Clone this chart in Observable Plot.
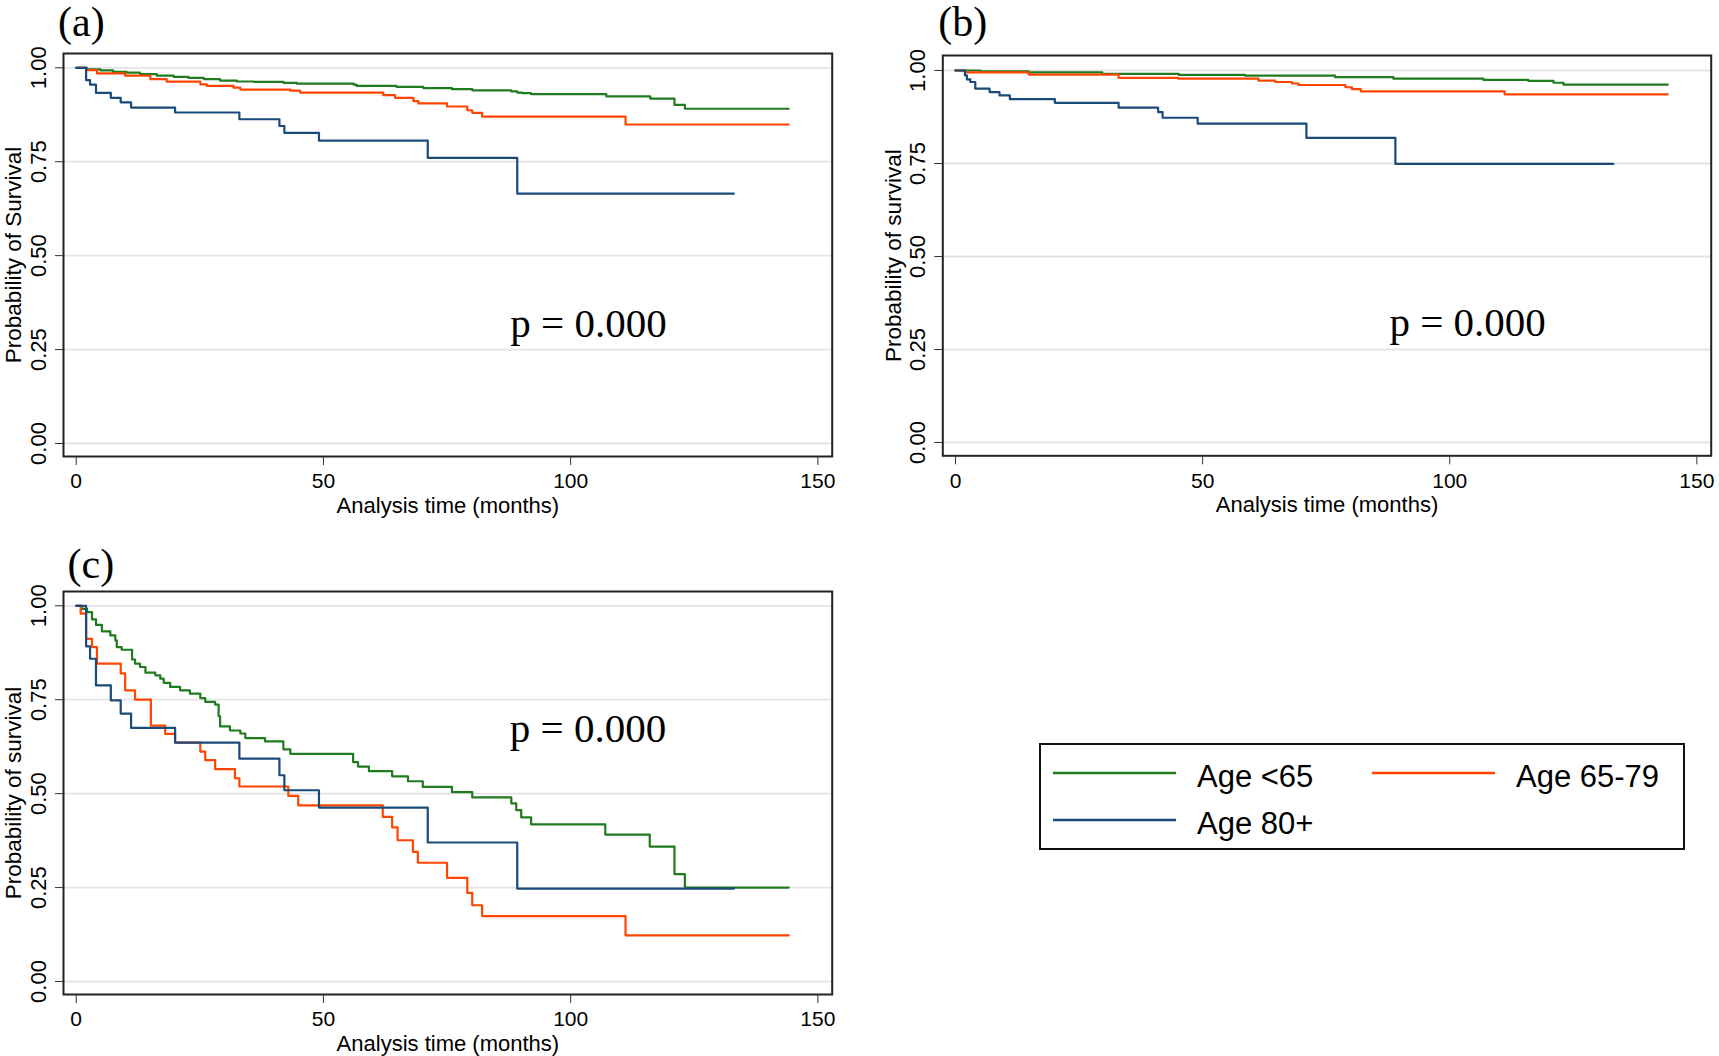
<!DOCTYPE html>
<html>
<head>
<meta charset="utf-8">
<script src="https://cdn.jsdelivr.net/npm/d3@7"></script>
<script src="https://cdn.jsdelivr.net/npm/@observablehq/plot@0.6"></script>
<style>
  html, body { margin: 0; padding: 0; background: #fff; }
  #root { position: relative; width: 1719px; height: 1056px; overflow: hidden; background: #fff; }
  .panel { position: absolute; }
  #legend { position: absolute; left: 1039px; top: 743px; }
</style>
</head>
<body>
<div id="root">
  <div class="panel" id="pa" style="left:0px;top:0px"></div>
  <div class="panel" id="pb" style="left:880px;top:0px"></div>
  <div class="panel" id="pc" style="left:0px;top:538px"></div>
  <div id="legend"></div>
</div>
<script>
// ---------- data ----------
const series = ["Age <65", "Age 65-79", "Age 80+"];
const colors = ["#1e7b1e", "#ff4500", "#1a4a7a"];
const xTicks = [0, 50, 100, 150];
const yTicks = [0, 0.25, 0.5, 0.75, 1];
const xTitle = "Analysis time (months)";
const pLabel = "p = 0.000";

// panel (a)
const aTimeLt65 = [0, 2.2, 4.9, 7.5, 10.2, 12.9, 16.3, 19.7, 22.7, 25.8, 29.1, 32.5, 35.9, 41.9, 44.6, 56.1, 56.7, 64.8, 70.2, 76.0, 80.1, 88.0, 89.2, 90.2, 92.0, 107.2, 116.1, 121.0, 123.1, 144.1];
const aSurvLt65 = [1, 0.996, 0.993, 0.989, 0.987, 0.983, 0.979, 0.976, 0.973, 0.970, 0.966, 0.9635, 0.9626, 0.960, 0.958, 0.955, 0.952, 0.949, 0.946, 0.943, 0.940, 0.937, 0.934, 0.9325, 0.930, 0.924, 0.918, 0.901, 0.891, 0.891];
const aTime6579 = [0, 2.1, 4.2, 9.9, 15.0, 18.3, 25.1, 26.4, 31.8, 33.2, 43.3, 45.3, 62.1, 64.5, 68.2, 69.2, 75.0, 79.1, 80.1, 82.1, 111.1, 144.1];
const aSurv6579 = [1, 0.994, 0.985, 0.979, 0.970, 0.963, 0.956, 0.952, 0.947, 0.942, 0.939, 0.934, 0.927, 0.920, 0.911, 0.905, 0.897, 0.887, 0.880, 0.870, 0.849, 0.849];
const aTime80 = [0, 2.0, 2.8, 4.0, 7.0, 9.0, 11.1, 20.0, 33.0, 41.1, 42.1, 49.1, 71.1, 89.2, 133.0];
const aSurv80 = [1, 0.967, 0.955, 0.933, 0.920, 0.908, 0.894, 0.881, 0.863, 0.845, 0.827, 0.806, 0.760, 0.665, 0.665];

// panel (b)
const bTimeLt65 = [0, 5.0, 14.8, 29.7, 45.2, 58.6, 76.8, 88.6, 106.8, 115.9, 121.0, 123.0, 144.1];
const bSurvLt65 = [1, 0.998, 0.995, 0.991, 0.988, 0.986, 0.982, 0.978, 0.975, 0.972, 0.967, 0.962, 0.962];
const bTime6579 = [0, 2.0, 14.8, 33.0, 45.1, 61.3, 64.7, 68.1, 69.4, 78.9, 80.2, 82.0, 111.1, 144.1];
const bSurv6579 = [1, 0.995, 0.989, 0.980, 0.978, 0.973, 0.969, 0.965, 0.961, 0.955, 0.950, 0.944, 0.936, 0.936];
const bTime80 = [0, 1.9, 2.3, 3.0, 4.0, 6.9, 8.9, 11.0, 20.1, 33.0, 41.0, 41.9, 49.0, 71.0, 89.0, 133.1];
const bSurv80 = [1, 0.987, 0.976, 0.969, 0.951, 0.942, 0.933, 0.923, 0.913, 0.900, 0.888, 0.873, 0.857, 0.819, 0.749, 0.749];

// panel (c)
const cTimeLt65 = [0, 1.1, 2.2, 3.2, 4.0, 5.2, 6.9, 7.9, 8.2, 9.2, 11.3, 11.9, 12.9, 14.0, 16.0, 17.0, 17.7, 19.0, 21.0, 23.0, 25.1, 26.1, 28.1, 28.8, 29.1, 31.1, 33.2, 34.2, 38.2, 41.9, 43.3, 56.0, 57.0, 59.2, 63.9, 67.1, 70.1, 76.0, 80.1, 88.0, 89.0, 90.0, 92.0, 107.0, 116.0, 121.0, 123.1, 144.1];
const cSurvLt65 = [1, 0.992, 0.983, 0.964, 0.949, 0.932, 0.921, 0.908, 0.890, 0.883, 0.857, 0.846, 0.837, 0.822, 0.815, 0.806, 0.795, 0.784, 0.775, 0.766, 0.754, 0.744, 0.737, 0.706, 0.679, 0.668, 0.660, 0.648, 0.639, 0.618, 0.606, 0.584, 0.572, 0.560, 0.546, 0.533, 0.518, 0.504, 0.490, 0.474, 0.456, 0.437, 0.418, 0.391, 0.359, 0.286, 0.250, 0.250];
const cTime6579 = [0, 0.9, 2.0, 3.2, 4.2, 9.0, 9.9, 11.9, 15.1, 18.0, 20.0, 25.1, 26.1, 28.1, 32.1, 33.0, 42.9, 44.9, 62.0, 63.9, 65.0, 68.1, 69.1, 75.0, 79.1, 80.1, 82.1, 111.1, 144.1];
const cSurv6579 = [1, 0.979, 0.912, 0.890, 0.846, 0.820, 0.775, 0.750, 0.681, 0.659, 0.636, 0.612, 0.589, 0.565, 0.541, 0.519, 0.494, 0.469, 0.438, 0.410, 0.376, 0.345, 0.316, 0.276, 0.236, 0.203, 0.174, 0.123, 0.123];
const cTime80 = [0, 2.0, 2.8, 4.0, 7.0, 9.0, 11.1, 20.0, 33.0, 41.1, 42.1, 49.1, 71.1, 89.2, 133.0];
const cSurv80 = [1, 0.892, 0.859, 0.788, 0.748, 0.713, 0.675, 0.636, 0.593, 0.549, 0.509, 0.463, 0.370, 0.247, 0.247];

// ---------- build ----------
function rows(times, survs, group) {
  return times.map((t, i) => ({t, s: survs[i], group}));
}

const sansFont = "'Liberation Sans', Arial, Helvetica, sans-serif";
const serifFont = "'Liberation Serif', 'Times New Roman', Times, serif";

function panel(cfg) {
  const data = [
    ...rows(cfg.times[0], cfg.survs[0], series[0]),
    ...rows(cfg.times[1], cfg.survs[1], series[1]),
    ...rows(cfg.times[2], cfg.survs[2], series[2])
  ];
  return Plot.plot({
    width: cfg.width,
    height: cfg.height,
    marginLeft: cfg.ml,
    marginRight: cfg.mr,
    marginTop: cfg.mt,
    marginBottom: cfg.mb,
    style: {fontFamily: sansFont, fontSize: "21px", color: "#000", background: "transparent", overflow: "visible"},
    x: {domain: [-2.57, 152.9]},
    y: {domain: cfg.ydom},
    color: {domain: series, range: colors},
    marks: [
      Plot.ruleY(yTicks, {stroke: "#e4e4e4", strokeWidth: 1.8}),
      Plot.line(data, {x: "t", y: "s", z: "group", stroke: "group", curve: "step-after", strokeWidth: 2.2}),
      Plot.frame({stroke: "#222", strokeWidth: 2}),
      Plot.axisX({ticks: xTicks, tickSize: 9, tickPadding: 8, label: null, fontSize: 21, stroke: "#333"}),
      Plot.axisY({ticks: yTicks, tickFormat: d3.format(".2f"), tickRotate: -90, tickSize: 8, tickPadding: 10, label: null, fontSize: 22, stroke: "#333"}),
      Plot.text([xTitle], {frameAnchor: "bottom", lineAnchor: "top", dy: 41, fontSize: 22, text: d => d}),
      Plot.text([cfg.yTitle], {frameAnchor: "left", lineAnchor: "bottom", textAnchor: "middle", rotate: -90, dx: cfg.ytdx, fontSize: 22.5, text: d => d}),
      Plot.text([cfg.tag], {frameAnchor: "top-left", textAnchor: "start", lineAnchor: "bottom", dx: cfg.tagdx, dy: cfg.tagdy, fontFamily: serifFont, fontSize: 42, text: d => d}),
      Plot.text([{x: cfg.px, y: cfg.py, label: pLabel}], {x: "x", y: "y", text: "label", textAnchor: "start", lineAnchor: "bottom", fontFamily: serifFont, fontSize: 41})
    ]
  });
}

document.getElementById("pa").append(panel({
  width: 860, height: 530, ml: 63, mr: 28.3, mt: 53, mb: 74,
  ydom: [-0.0346, 1.038],
  times: [aTimeLt65, aTime6579, aTime80], survs: [aSurvLt65, aSurv6579, aSurv80],
  yTitle: "Probability of Survival", ytdx: -43,
  tag: "(a)", tagdx: -5.5, tagdy: -18,
  px: 87.8, py: 0.283
}));

document.getElementById("pb").append(panel({
  width: 839, height: 530, ml: 62.3, mr: 8.3, mt: 55, mb: 74.7,
  ydom: [-0.0358, 1.0403],
  times: [bTimeLt65, bTime6579, bTime80], survs: [bSurvLt65, bSurv6579, bSurv80],
  yTitle: "Probability of survival", ytdx: -42,
  tag: "(b)", tagdx: -4.5, tagdy: -20,
  px: 87.8, py: 0.285
}));

document.getElementById("pc").append(panel({
  width: 860, height: 518, ml: 63, mr: 28.3, mt: 53, mb: 62,
  ydom: [-0.0346, 1.038],
  times: [cTimeLt65, cTime6579, cTime80], survs: [cSurvLt65, cSurv6579, cSurv80],
  yTitle: "Probability of survival", ytdx: -43,
  tag: "(c)", tagdx: 4, tagdy: -14,
  px: 87.7, py: 0.637
}));

// ---------- legend ----------
const legendItems = [
  {label: series[0], color: colors[0], x: 14, y: 30},
  {label: series[1], color: colors[1], x: 333, y: 30},
  {label: series[2], color: colors[2], x: 14, y: 77}
];
const lsvg = d3.create("svg").attr("width", 646).attr("height", 107)
  .style("font-family", sansFont);
lsvg.append("rect").attr("x", 1).attr("y", 1).attr("width", 644).attr("height", 105)
  .attr("fill", "#fff").attr("stroke", "#111").attr("stroke-width", 2);
const g = lsvg.selectAll("g").data(legendItems).join("g");
g.append("line").attr("x1", d => d.x).attr("x2", d => d.x + 123)
  .attr("y1", d => d.y).attr("y2", d => d.y)
  .attr("stroke", d => d.color).attr("stroke-width", 2.5);
g.append("text").attr("x", d => d.x + 144).attr("y", d => d.y + 14)
  .attr("font-size", 31).attr("fill", "#000").text(d => d.label);
document.getElementById("legend").append(lsvg.node());
</script>
</body>
</html>
